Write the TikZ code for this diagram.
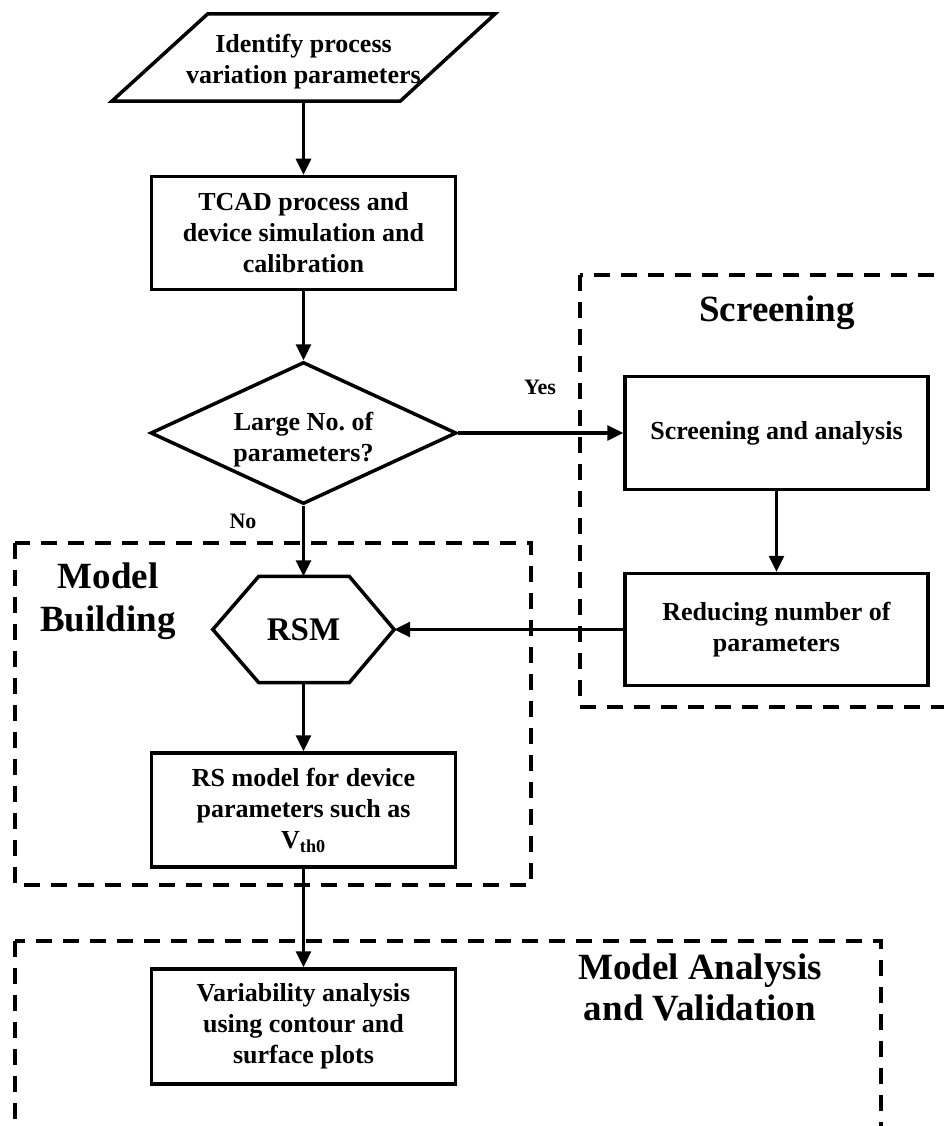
\documentclass[tikz,border=0pt]{standalone}
\usepackage{fontspec}
\setmainfont{Liberation Serif}
\frenchspacing
\usetikzlibrary{arrows.meta,shapes.geometric,calc}
\begin{document}
\begin{tikzpicture}[x=1pt,y=-1pt,
  every node/.style={font=\fontsize{26}{31}\selectfont\bfseries, align=center, inner sep=0pt},
  procbox/.style={draw, line width=3.5pt, rectangle, minimum width=304pt, minimum height=113pt},
  flow/.style={line width=3.2pt, -{Triangle[length=16pt,width=15pt]}},
  group/.style={line width=4pt, dash pattern=on 16pt off 11pt},
  title/.style={font=\fontsize{37}{42}\selectfont\bfseries},
  lbl/.style={font=\fontsize{22}{26}\selectfont\bfseries}]
\useasboundingbox (0,0) rectangle (943,1126);

% dashed group frames
\draw[group] (580,275) rectangle (1000,707);
\draw[group] (15,543) rectangle (531,885);
\draw[group] (15,941) rectangle (881,1160);

% group titles
\node[title] (tscreen) at (777,313) {Screening};
\node[title, font=\fontsize{37}{43}\selectfont\bfseries] (tbuild) at (108,601) {Model\\Building};
\node[title, font=\fontsize{37}{41}\selectfont\bfseries] (tanaly) at (700,987) {Model Analysis\\and Validation};

% input parallelogram
\node[minimum width=383pt, minimum height=87pt] (input) at (303.5,57.5) {};
\node (inputtext) at (303.5,62) {Identify process\\variation parameters};
\draw[line width=3.5pt] ($(input.north west)+(96,0)$) -- (input.north east)
  -- ($(input.south east)+(-95,0)$) -- (input.south west) -- cycle;

% process steps
\node[procbox] (tcad) at (303.5,233) {TCAD process and\\device simulation and\\calibration};
\node[draw, diamond, line width=3.5pt, minimum width=306pt, minimum height=142pt, shape aspect=2.15] (dec) at (303.5,433) {};
\node (dectext) at (303.5,440) {Large No. of\\parameters?};
\node[procbox, minimum width=303pt] (scr) at (776.5,433) {Screening and analysis};
\node[procbox, minimum width=303pt, minimum height=112pt] (red) at (776.5,629.5) {Reducing number of\\parameters};

% RSM hexagon
\node[minimum width=181pt, minimum height=106pt, font=\fontsize{33}{38}\selectfont\bfseries] (rsm) at (303.5,629.5) {RSM};
\draw[line width=3.5pt] (rsm.west) -- ($(rsm.north west)+(46,0)$) -- ($(rsm.north east)+(-45,0)$)
  -- (rsm.east) -- ($(rsm.south east)+(-45,0)$) -- ($(rsm.south west)+(46,0)$) -- cycle;

\node[procbox, minimum height=114pt] (rs) at (303.5,810) {RS model for device\\parameters such as\\V\textsubscript{th0}};
\node[procbox, minimum height=115pt] (var) at (303.5,1026.5) {Variability analysis\\using contour and\\surface plots};

% branch labels
\node[lbl] (yes) at (540,387) {Yes};
\node[lbl] (no) at (243,521) {No};

% connectors
\draw[flow] (input.south) -- (tcad.north);
\draw[flow] (tcad.south) -- (dec.north);
\draw[flow] (dec.east) -- (scr.west);
\draw[flow] (scr.south) -- (red.north);
\draw[flow] (red.west) -- (rsm.east);
\draw[flow] (dec.south) -- (rsm.north);
\draw[flow] (rsm.south) -- (rs.north);
\draw[flow] (rs.south) -- (var.north);
\end{tikzpicture}
\end{document}
